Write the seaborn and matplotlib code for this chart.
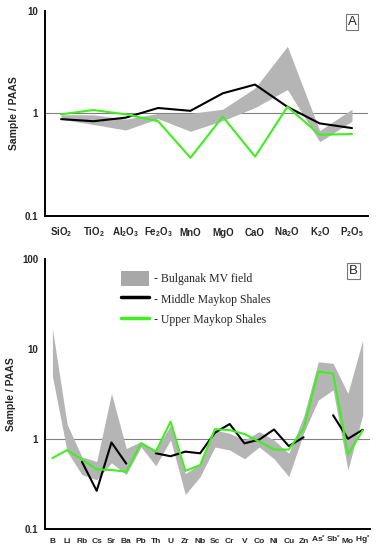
import numpy as np
import pandas as pd
import matplotlib
matplotlib.use("Agg")
import matplotlib.pyplot as plt
import seaborn as sns
from matplotlib.patches import Patch
from matplotlib.lines import Line2D

# panel A - major oxides
oxides = ["SiO$_2$", "TiO$_2$", "Al$_2$O$_3$", "Fe$_2$O$_3$", "MnO", "MgO",
          "CaO", "Na$_2$O", "K$_2$O", "P$_2$O$_5$"]
oxBandHi = [0.97, 0.97, 0.88, 1.0, 1.0, 1.1, 1.77, 4.5, 0.68, 1.10]
oxBandLo = [0.88, 0.78, 0.69, 0.89, 0.67, 0.85, 1.14, 1.71, 0.53, 0.84]
oxMiddle = [0.88, 0.84, 0.91, 1.13, 1.06, 1.57, 1.91, 1.16, 0.80, 0.72]
oxUpper = [0.98, 1.08, 0.98, 0.84, 0.37, 0.93, 0.38, 1.16, 0.62, 0.63]

# panel B - trace elements
elements = ["B", "Li", "Rb", "Cs", "Sr", "Ba", "Pb", "Th", "U", "Zr", "Nb",
            "Sc", "Cr", "V", "Co", "Ni", "Cu", "Zn", "As$^{*}$", "Sb$^{*}$", "Mo", "Hg$^{*}$"]
elBandHi = [16.9, 1.45, 0.63, 0.56, 3.2, 0.78, 0.93, 0.75, 1.42, 0.41, 0.53,
            1.25, 1.15, 0.97, 1.2, 0.97, 0.69, 1.76, 7.2, 6.9, 3.2, 12.5]
elBandLo = [5.0, 0.72, 0.40, 0.35, 0.54, 0.40, 0.81, 0.50, 0.97, 0.24, 0.38,
            0.81, 0.75, 0.60, 0.81, 0.60, 0.38, 1.15, 2.7, 3.5, 0.45, 1.83]
elMiddle = [np.nan, np.nan, 0.555, 0.264, 0.91, 0.53, np.nan, 0.69, 0.64, 0.72, 0.69,
            1.17, 1.46, 0.89, 0.98, 1.27, 0.83, 1.04, np.nan, 1.83, 1.0, 1.26]
elUpper = [0.61, 0.75, 0.59, 0.457, 0.45, 0.43, 0.89, 0.72, 1.55, 0.44, 0.51,
           1.28, 1.25, 1.13, 0.93, 0.76, 0.76, 1.30, 5.6, 5.3, 0.67, 1.24]

GREEN = "#3ef01e"
GRAY = "#b5b5b5"

sns.set_style("white")
plt.rcParams["font.family"] = ["Liberation Sans", "DejaVu Sans"]
plt.rcParams["mathtext.default"] = "regular"


def make_df(middle, upper):
    d = pd.DataFrame({"pos": np.arange(len(middle)), "middle": middle, "upper": upper})
    # segments so gaps in the middle series stay gaps
    d["seg"] = d.middle.isna().cumsum()
    return d


def style_axes(ax, xlim, ylim, yticks, ylabels):
    ax.set_yscale("log")
    ax.set_xlim(*xlim)
    ax.set_ylim(*ylim)
    ax.set_yticks(yticks)
    ax.set_yticklabels(ylabels, fontsize=7, fontweight="bold")
    ax.yaxis.set_minor_locator(matplotlib.ticker.NullLocator())
    for s in ["top", "right"]:
        ax.spines[s].set_visible(False)
    for s in ["left", "bottom"]:
        ax.spines[s].set_linewidth(1.4)
        ax.spines[s].set_color("black")
    ax.tick_params(axis="y", direction="out", length=3, width=1.2, pad=2)
    ax.set_xlabel("")
    ax.set_ylabel("Sample / PAAS", fontsize=7.5, fontweight="bold", labelpad=4)
    ax.axhline(1, color="#808080", lw=0.8, zorder=1)


def panel_box(ax, txt, x, y):
    ax.text(x, y, txt, transform=ax.transAxes, fontsize=9.5, ha="center", va="center",
            bbox=dict(boxstyle="square,pad=0.15", fc="white", ec="#777777", lw=0.8))


fig = plt.figure(figsize=(3.78, 5.5), dpi=100)

# %% panel A
axA = fig.add_axes([0.119, 0.607, 0.855, 0.3735])
dA = make_df(oxMiddle, oxUpper)
axA.fill_between(dA.pos, oxBandLo, oxBandHi, color=GRAY, lw=0, zorder=2)
sns.lineplot(data=dA, x="pos", y="middle", units="seg", estimator=None,
             color="black", lw=1.5, ax=axA, zorder=3)
sns.lineplot(data=dA, x="pos", y="upper", color=GREEN, lw=1.5, ax=axA, zorder=4)
style_axes(axA, (-0.5, 9.5), (0.1, 10), [0.1, 1, 10], ["0.1", "1", "10"])
axA.set_xticks(np.arange(-0.5, 10, 1))
axA.set_xticklabels([])
axA.set_xticks(np.arange(10), minor=True)
axA.set_xticklabels(oxides, minor=True, fontsize=7, fontweight="bold", va="baseline")
axA.tick_params(axis="x", which="major", direction="out", length=4, width=1.2)
axA.tick_params(axis="x", which="minor", length=0, pad=14)
panel_box(axA, "A", 0.95, 0.945)

# %% panel B
axB = fig.add_axes([0.119, 0.0387, 0.86, 0.4904])
dB = make_df(elMiddle, elUpper)
axB.fill_between(dB.pos, elBandLo, elBandHi, color=GRAY, lw=0, zorder=2)
sns.lineplot(data=dB.dropna(), x="pos", y="middle", units="seg", estimator=None,
             color="black", lw=1.5, ax=axB, zorder=3)
sns.lineplot(data=dB, x="pos", y="upper", color=GREEN, lw=1.5, ax=axB, zorder=4)
style_axes(axB, (-0.45, 21.45), (0.1, 100), [0.1, 1, 10, 100],
           ["0.1", "1", "10", "100"])
axB.set_xticks(np.arange(22))
axB.set_xticklabels(elements, fontsize=6, fontweight="bold", va="baseline")
axB.set_xticks(np.arange(-0.5, 22, 1), minor=True)
axB.tick_params(axis="x", which="both", direction="out", length=2, width=1.0, pad=8)
panel_box(axB, "B", 0.95, 0.955)

handles = [Patch(facecolor="#a8a8a8", edgecolor="none"),
           Line2D([], [], color="black", lw=2.5),
           Line2D([], [], color=GREEN, lw=2.5)]
labels = ["- Bulganak MV field", "- Middle Maykop Shales", "- Upper Maykop Shales"]
leg = axB.legend(handles, labels, loc="upper left", bbox_to_anchor=(0.2, 0.995),
                 frameon=False, prop={"family": "Liberation Serif", "size": 8.5},
                 handlelength=2.4, handleheight=1.6, labelspacing=0.45, handletextpad=0.4)

fig.savefig("out.png", dpi=100)
